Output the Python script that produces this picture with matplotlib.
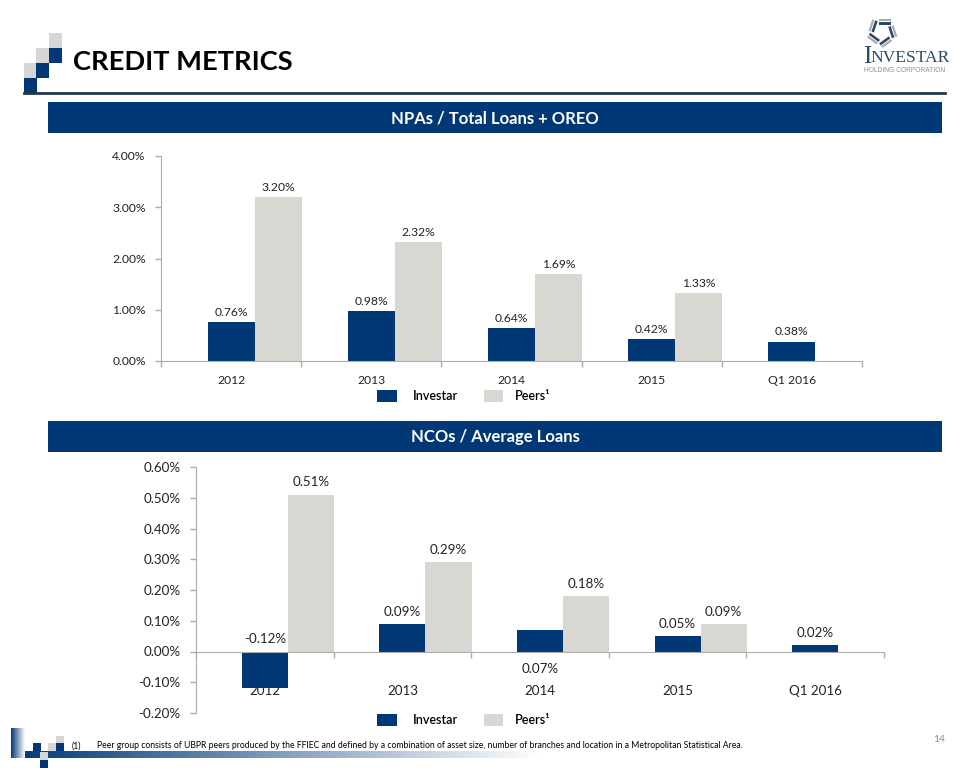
import matplotlib
matplotlib.use("Agg")
import matplotlib.pyplot as plt
import numpy as np
from matplotlib.patches import Rectangle, Polygon
from matplotlib.ticker import FuncFormatter, FixedLocator
from matplotlib.colors import LinearSegmentedColormap

# ---------------- data ----------------
categories = ["2012", "2013", "2014", "2015", "Q1 2016"]
series_names = ["Investar", "Peers"]

npa_investar = [0.76, 0.98, 0.64, 0.42, 0.38]
npa_peers = [3.20, 2.32, 1.69, 1.33, None]
npa_yticks = [0.0, 1.0, 2.0, 3.0, 4.0]

nco_investar = [-0.12, 0.09, 0.07, 0.05, 0.02]
nco_peers = [0.51, 0.29, 0.18, 0.09, None]
nco_yticks = [-0.2, -0.1, 0.0, 0.1, 0.2, 0.3, 0.4, 0.5, 0.6]

title_text = "CREDIT METRICS"
panel_titles = ["NPAs / Total Loans + OREO", "NCOs / Average Loans"]
footnote = ("Peer group consists of UBPR peers produced by the FFIEC and defined by a "
            "combination of asset size, number of branches and location in a "
            "Metropolitan Statistical Area.")
page_number = "14"

# ---------------- style ----------------
NAVY = "#003876"
GRAY = "#D9D7D1"
LGRAY = "#D6D6D6"
AXIS = "#ADADAD"
FONT = ["Lato", "DejaVu Sans"]
plt.rcParams["font.family"] = FONT

W, H = 960, 768
fig = plt.figure(figsize=(9.6, 7.68), dpi=100)


def fx(x):
    return x / W


def fy(y):
    return 1 - y / H


def rect_px(x0, y0, x1, y1, **kw):
    fig.patches.append(Rectangle((fx(x0), fy(y1)), (x1 - x0) / W, (y1 - y0) / H,
                                 transform=fig.transFigure, **kw))


def axes_px(x0, y0, x1, y1):
    return fig.add_axes([fx(x0), fy(y1), (x1 - x0) / W, (y1 - y0) / H])


# ---------------- header ----------------
squares = [
    (49, 33, LGRAY),
    (36, 48, LGRAY), (49, 48, NAVY),
    (24, 63, LGRAY), (36, 63, NAVY),
    (24, 78, NAVY),
]
for x0, y0, c in squares:
    rect_px(x0, y0, x0 + 12.5, y0 + 15, color=c, lw=0)

fig.text(fx(73), fy(62), title_text, fontsize=19.6, fontweight="bold",
         color="black", va="center", ha="left", family=FONT)
fig.add_artist(plt.Line2D([fx(24), fx(945)], [fy(93), fy(93)],
                          transform=fig.transFigure, color="#1F3A4E", lw=2))

# logo
LOGO = "#2B4A6B"
fig.text(fx(863), fy(57), "I", fontsize=18, family="Liberation Serif",
         color=LOGO, va="center", ha="left")
fig.text(fx(870), fy(58.5), "NVESTAR", fontsize=12.6, family="Liberation Serif",
         color=LOGO, va="center", ha="left")
fig.text(fx(864), fy(70), "HOLDING CORPORATION", fontsize=4.8, family="Liberation Sans",
         color="#9C8E7A", va="center", ha="left")
cx, cy = 882, 32
for k in range(5):
    ang = np.deg2rad(90 + k * 72)
    tdir = ang - np.deg2rad(90)
    for r, col, wd in [(7.5, LOGO, 2.6), (11.0, "#A9A9B0", 2.2)]:
        px = cx + r * np.cos(ang)
        py = cy - r * np.sin(ang)
        dx, dy = np.cos(tdir), -np.sin(tdir)
        nx, ny = np.cos(ang), -np.sin(ang)
        L0, L1 = -3.0, 9.0
        pts = [(px + L0 * dx, py + L0 * dy), (px + L1 * dx, py + L1 * dy),
               (px + L1 * dx + wd * nx, py + L1 * dy + wd * ny),
               (px + L0 * dx + wd * nx, py + L0 * dy + wd * ny)]
        fig.patches.append(Polygon([(fx(a), fy(b)) for a, b in pts], closed=True,
                                   transform=fig.transFigure, color=col, lw=0))


def banner(y0, y1, text):
    rect_px(48, y0, 942, y1, color=NAVY, lw=0)
    fig.text(fx(495), fy((y0 + y1) / 2 + 0.5), text, color="white", fontsize=12,
             fontweight="bold", ha="center", va="center", family=FONT)


banner(102, 133, panel_titles[0])
banner(421, 452, panel_titles[1])


# ---------------- charts ----------------
def bar_chart(ax, inv, peers, yticks, label_pad, cat_pad, below_flags, fs):
    x = np.arange(len(categories))
    w = 0.335
    inv_x = x
    peer_x = x + w
    ax.bar(inv_x, inv, width=w, color=NAVY, align="center", zorder=2)
    pv = [np.nan if v is None else v for v in peers]
    ax.bar(peer_x, pv, width=w, color=GRAY, align="center", zorder=2)

    ax.set_xlim(-0.5, len(categories) - 0.5)
    ax.set_ylim(yticks[0], yticks[-1])
    for s in ["top", "right"]:
        ax.spines[s].set_visible(False)
    ax.spines["left"].set_color(AXIS)
    ax.spines["bottom"].set_color(AXIS)
    ax.spines["bottom"].set_position(("data", 0))
    ax.set_yticks(yticks)
    ax.yaxis.set_major_formatter(FuncFormatter(lambda v, p: f"{v:.2f}%"))
    ax.tick_params(axis="y", colors=AXIS, labelcolor="#222222", labelsize=fs,
                   length=4, width=1, pad=7)
    ax.set_xticks(x)
    ax.set_xticklabels(categories)
    ax.tick_params(axis="x", which="major", length=0, labelsize=fs,
                   labelcolor="#222222", pad=cat_pad)
    ax.xaxis.set_minor_locator(FixedLocator(np.arange(len(categories) + 1) - 0.5))
    ax.tick_params(axis="x", which="minor", length=4, width=1, colors=AXIS,
                   direction="out")
    ax.patch.set_alpha(0)

    for xi, v, below in zip(inv_x, inv, below_flags):
        if below:
            ax.annotate(f"{v:.2f}%", (xi, 0), xytext=(0, -8), textcoords="offset points",
                        ha="center", va="top", fontsize=fs, color="#222222")
        else:
            ax.annotate(f"{v:.2f}%", (xi, max(v, 0)), xytext=(0, label_pad),
                        textcoords="offset points", ha="center", va="bottom",
                        fontsize=fs, color="#222222")
    for xi, v in zip(peer_x, peers):
        if v is None:
            continue
        ax.annotate(f"{v:.2f}%", (xi, v), xytext=(0, label_pad),
                    textcoords="offset points", ha="center", va="bottom",
                    fontsize=fs, color="#222222")


ax1 = axes_px(161, 156, 862, 361)
bar_chart(ax1, npa_investar, npa_peers, npa_yticks, 3, 10, [False] * 5, 8.7)

ax2 = axes_px(196, 467, 884, 713)
bar_chart(ax2, nco_investar, nco_peers, nco_yticks, 4.5, 24,
          [False, False, True, False, False], 9.6)


def legend(yc):
    rect_px(377, yc - 6, 397, yc + 6, color=NAVY, lw=0)
    fig.text(fx(413), fy(yc), series_names[0], fontsize=9, va="center",
             ha="left", color="black", fontweight="semibold")
    rect_px(484, yc - 6, 503, yc + 6, color=GRAY, lw=0)
    fig.text(fx(515), fy(yc), series_names[1] + "\u00b9", fontsize=9, va="center",
             ha="left", color="black", fontweight="semibold")


legend(396)
legend(720)

# ---------------- footer ----------------
grad = np.linspace(0, 1, 256)[None, :]
cmap = LinearSegmentedColormap.from_list("g", [NAVY, "#FFFFFF"])
gax = axes_px(11, 751, 540, 758)
gax.imshow(grad, aspect="auto", cmap=cmap, extent=[0, 1, 0, 1])
gax.axis("off")
vax = axes_px(11, 728, 25, 758)
vax.imshow(grad, aspect="auto", cmap=cmap, extent=[0, 1, 0, 1])
vax.axis("off")

foot_sq = [
    (33, 743, NAVY), (40, 752, LGRAY), (40, 760, NAVY),
    (48, 743, LGRAY), (56, 736, LGRAY), (56, 743, NAVY),
]
for x0, y0, c in foot_sq:
    rect_px(x0, y0, x0 + 7.5, y0 + 8, color=c, lw=0)

fig.text(fx(72), fy(746), "(1)", fontsize=6.2, va="center", ha="left", color="black")
fig.text(fx(97), fy(746), footnote, fontsize=6.2, va="center", ha="left", color="black")
fig.text(fx(945), fy(740), page_number, fontsize=7.5, va="center", ha="right",
         color="#8C8C8C")

fig.savefig("out.png", dpi=100)
